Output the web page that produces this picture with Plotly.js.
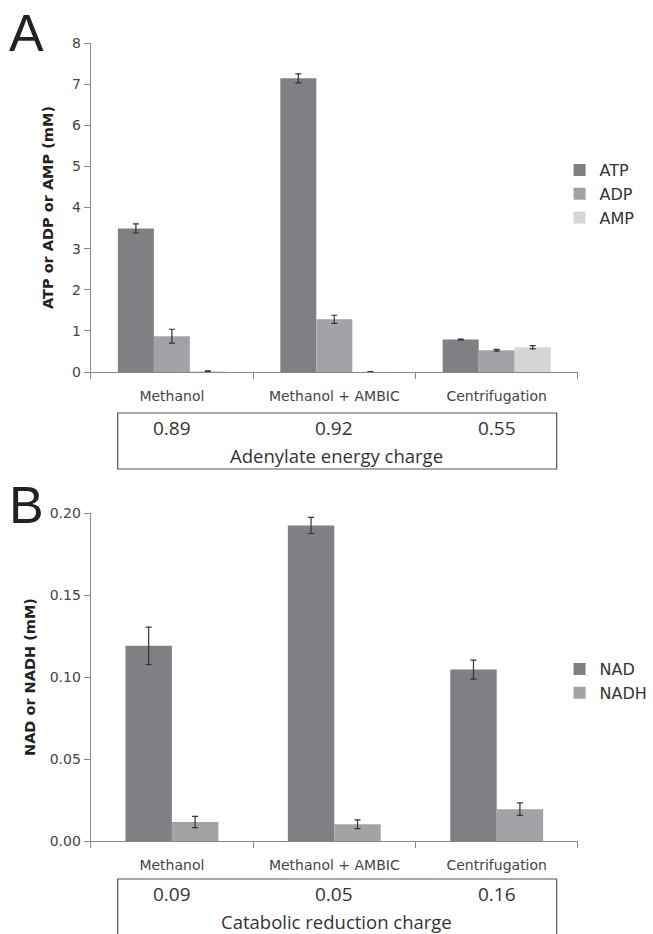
<!DOCTYPE html>
<html>
<head>
<meta charset="utf-8">
<script src="https://cdn.plot.ly/plotly-3.0.1.min.js"></script>
<style>html,body{margin:0;padding:0;background:#fff;}#chart{width:653px;height:934px;}</style>
</head>
<body>
<div id="chart"></div>
<script>
// ---- Data ----
const categories = ["Methanol", "Methanol + AMBIC", "Centrifugation"];

const atp = [3.49, 7.14, 0.79];
const atpErr = [0.11, 0.11, 0.01];
const adp = [0.87, 1.28, 0.53];
const adpErr = [0.17, 0.10, 0.02];
const amp = [0.02, 0.005, 0.60];
const ampErr = [0.005, 0.002, 0.04];

const nad = [0.119, 0.1924, 0.1045];
const nadErr = [0.0114, 0.0049, 0.0058];
const nadh = [0.0116, 0.0102, 0.0194];
const nadhErr = [0.0034, 0.0027, 0.0038];

const energyCharge = ["0.89", "0.92", "0.55"];
const reductionCharge = ["0.09", "0.05", "0.16"];

// ---- Styles ----
const cDark = "#7f8084", cMid = "#a2a3a6", cLight = "#d5d6d8";
const errStyle = {type: "data", visible: true, color: "#333", thickness: 1.2, width: 3};
const tickFont = {family: "DejaVu Sans, Verdana, sans-serif", size: 14, color: "#444"};
const catFont = {family: "DejaVu Sans, Verdana, sans-serif", size: 14, color: "#444"};
const boxFont = {family: "Open Sans, Noto Sans, sans-serif", size: 19, color: "#333"};

function barTrace(name, y, err, color, xa, ya, legend, extra) {
  return Object.assign({
    type: "bar", name: name, x: categories, y: y,
    error_y: Object.assign({array: err}, errStyle),
    marker: {color: color, line: {width: 0}},
    xaxis: xa, yaxis: ya, legend: legend, hoverinfo: "skip"
  }, extra || {});
}

const W = 0.286;
const traces = [
  barTrace("ATP", atp, atpErr, cDark, "x", "y", "legend"),
  barTrace("ADP", adp, adpErr, cMid, "x", "y", "legend"),
  barTrace("AMP", amp, ampErr, cLight, "x", "y", "legend"),
  barTrace("NAD", nad, nadErr, cDark, "x2", "y2", "legend2", {width: W, offset: -W}),
  barTrace("NADH", nadh, nadhErr, cMid, "x2", "y2", "legend2", {width: W, offset: 0})
];

const H = 934, Wd = 653;
const py = v => 1 - v / H;
const px = v => v / Wd;

const xCommon = {
  type: "category", showline: true, linecolor: "#888", linewidth: 1,
  ticks: "outside", tickson: "boundaries", ticklen: 6, tickcolor: "#888",
  tickfont: catFont, ticklabelstandoff: 11, showgrid: false, zeroline: false,
  fixedrange: true
};
const yCommon = {
  showline: true, linecolor: "#888", linewidth: 1, ticks: "outside", ticklen: 6,
  tickcolor: "#888", tickfont: tickFont, showgrid: false, zeroline: false,
  fixedrange: true
};

const annotations = [];
categories.forEach((c, i) => {
  annotations.push({xref: "x", yref: "paper", x: c, y: py(428), text: energyCharge[i],
    showarrow: false, font: boxFont, xanchor: "center", yanchor: "middle"});
  annotations.push({xref: "x2", yref: "paper", x: c, y: py(894), text: reductionCharge[i],
    showarrow: false, font: boxFont, xanchor: "center", yanchor: "middle"});
});
const subFont = {family: boxFont.family, size: 18.5, color: "#333"};
annotations.push({xref: "paper", yref: "paper", x: px(349), y: py(455), text: "Adenylate energy charge",
  showarrow: false, font: subFont, xanchor: "center", yanchor: "middle"});
annotations.push({xref: "paper", yref: "paper", x: px(349), y: py(921), text: "Catabolic reduction charge",
  showarrow: false, font: subFont, xanchor: "center", yanchor: "middle"});
annotations.push({xref: "paper", yref: "paper", x: px(27), y: py(33), text: "A",
  showarrow: false, font: {family: "Liberation Sans, Arial, sans-serif", size: 52, color: "#222"}, xanchor: "center", yanchor: "middle"});
annotations.push({xref: "paper", yref: "paper", x: px(27), y: py(505), text: "B",
  showarrow: false, font: {family: "Liberation Sans, Arial, sans-serif", size: 52, color: "#222"}, xanchor: "center", yanchor: "middle"});

const legendFont = {family: "DejaVu Sans, Verdana, sans-serif", size: 16, color: "#333"};
const layout = {
  width: Wd, height: H,
  margin: {l: 0, r: 0, t: 0, b: 0},
  paper_bgcolor: "#fff", plot_bgcolor: "#fff",
  barmode: "group", bargap: 0.335, bargroupgap: 0,
  xaxis: Object.assign({}, xCommon, {domain: [px(94), px(599)], anchor: "y"}),
  yaxis: Object.assign({}, yCommon, {domain: [py(372), py(43)], range: [0, 8], dtick: 1, anchor: "x",
    title: {text: "<b>ATP or ADP or AMP (mM)</b>", font: {family: "DejaVu Sans, Verdana, sans-serif", size: 14.5, color: "#222"}, standoff: 14}}),
  xaxis2: Object.assign({}, xCommon, {domain: [px(94), px(599)], anchor: "y2"}),
  yaxis2: Object.assign({}, yCommon, {domain: [py(841), py(513)], range: [0, 0.2], dtick: 0.05, tickformat: ".2f", anchor: "x2",
    title: {text: "<b>NAD or NADH (mM)</b>", font: {family: "DejaVu Sans, Verdana, sans-serif", size: 14.5, color: "#222"}, standoff: 10}}),
  legend: {x: px(580), y: py(194), xanchor: "left", yanchor: "middle", bgcolor: "rgba(0,0,0,0)",
    font: legendFont, itemwidth: 30, tracegroupgap: 0},
  legend2: {x: px(580), y: py(681), xanchor: "left", yanchor: "middle", bgcolor: "rgba(0,0,0,0)",
    font: legendFont, itemwidth: 30, tracegroupgap: 0},
  shapes: [
    {type: "rect", xref: "paper", yref: "paper", x0: px(122), x1: px(577), y0: py(469), y1: py(413),
      line: {color: "#555", width: 1.2}, fillcolor: "rgba(0,0,0,0)"},
    {type: "rect", xref: "paper", yref: "paper", x0: px(122), x1: px(577), y0: py(940), y1: py(879),
      line: {color: "#555", width: 1.2}, fillcolor: "rgba(0,0,0,0)"}
  ],
  annotations: annotations,
  showlegend: true
};

Plotly.newPlot("chart", traces, layout, {displayModeBar: false, staticPlot: true});
</script>
</body>
</html>
